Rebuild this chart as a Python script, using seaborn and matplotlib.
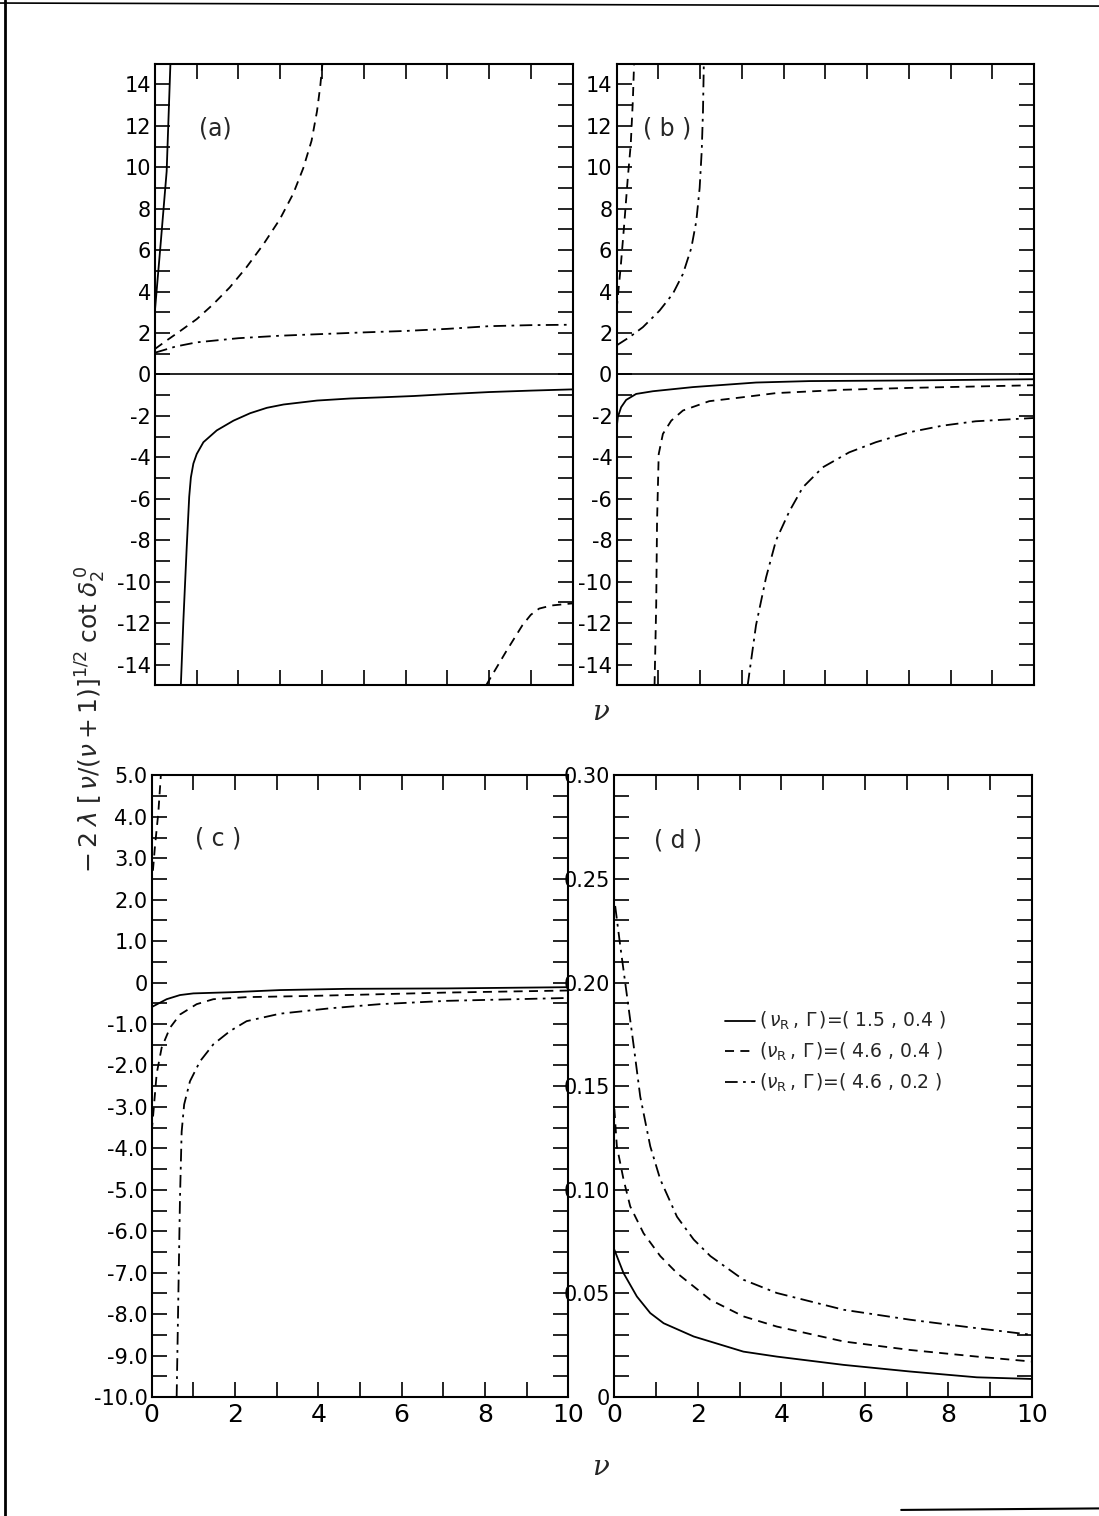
import numpy as np
import pandas as pd
import matplotlib
matplotlib.use('Agg')
import matplotlib.pyplot as plt
import seaborn as sns
from matplotlib.lines import Line2D
from matplotlib.ticker import FixedLocator, FuncFormatter

# ---- data ----
# panel (a)
a_solid_up_x = [0.0, 0.14, 0.28, 0.37]
a_solid_up_y = [3.1, 6.4, 9.8, 15.0]
a_solid_lo_x = [0.62, 0.68, 0.76, 0.82, 0.86, 0.92, 1.0, 1.16, 1.48, 1.88, 2.28, 2.68, 3.08, 3.88,
                4.68, 5.48, 6.2, 7.0, 8.0, 9.0, 10.0]
a_solid_lo_y = [-15.0, -11.9, -8.35, -5.9, -4.97, -4.3, -3.84, -3.27, -2.7, -2.23, -1.87, -1.61, -1.45, -1.26,
                -1.16, -1.1, -1.04, -0.95, -0.85, -0.78, -0.72]
a_dash_up_x = [0.0, 0.28, 0.6, 1.0, 1.39, 1.79, 2.19, 2.59, 2.99, 3.31, 3.55, 3.75, 3.88, 3.96, 4.01]
a_dash_up_y = [1.23, 1.64, 2.09, 2.67, 3.38, 4.2, 5.17, 6.26, 7.49, 8.72, 9.95, 11.28, 12.7, 13.95, 15.0]
a_dash_lo_x = [7.93, 8.4, 8.8, 9.0, 9.2, 9.5, 10.0]
a_dash_lo_y = [-15.0, -13.4, -12.1, -11.6, -11.3, -11.15, -11.05]
a_dd_x = [0.0, 0.5, 1.0, 2.0, 3.0, 4.0, 5.0, 6.0, 7.0, 8.0, 9.0, 10.0]
a_dd_y = [1.05, 1.35, 1.55, 1.75, 1.87, 1.95, 2.03, 2.1, 2.2, 2.33, 2.38, 2.4]

# panel (b)
b_solid_x = [0.0, 0.03, 0.11, 0.23, 0.47, 0.87, 1.83, 3.34, 4.62, 7.0, 10.0]
b_solid_y = [-2.63, -2.06, -1.58, -1.23, -0.94, -0.81, -0.61, -0.39, -0.32, -0.29, -0.23]
b_dash_up_x = [0.0, 0.1, 0.19, 0.27, 0.34, 0.39, 0.42]
b_dash_up_y = [3.1, 5.2, 7.4, 9.5, 11.1, 13.2, 15.0]
b_dash_lo_x = [0.91, 0.95, 0.97, 1.01, 1.11, 1.31, 1.59, 2.22, 3.02, 3.82, 5.42, 7.0, 10.0]
b_dash_lo_y = [-15.0, -11.1, -7.1, -3.84, -2.87, -2.23, -1.74, -1.29, -1.1, -0.9, -0.74, -0.65, -0.52]
b_dd_up_x = [0.0, 0.31, 0.63, 1.03, 1.35, 1.59, 1.79, 1.91, 1.99, 2.04, 2.07, 2.09]
b_dd_up_y = [1.4, 1.8, 2.28, 3.08, 3.9, 4.85, 6.1, 7.4, 9.0, 10.8, 12.7, 15.0]
b_dd_lo_x = [3.14, 3.34, 3.58, 3.82, 4.14, 4.46, 4.94, 5.57, 6.21, 7.01, 7.81, 8.6, 10.0]
b_dd_lo_y = [-15.0, -12.1, -9.8, -8.0, -6.6, -5.45, -4.48, -3.76, -3.27, -2.79, -2.47, -2.26, -2.1]

# panel (c)
c_solid_x = [0.0, 0.36, 0.68, 1.0, 1.96, 3.08, 4.68, 7.08, 10.0]
c_solid_y = [-0.59, -0.4, -0.3, -0.26, -0.23, -0.18, -0.15, -0.14, -0.11]
c_dash_up_x = [0.03, 0.08, 0.16, 0.22]
c_dash_up_y = [2.7, 3.3, 4.1, 5.0]
c_dash_lo_x = [0.0, 0.03, 0.12, 0.24, 0.44, 0.68, 1.08, 1.48, 2.28, 3.88, 5.48, 7.08, 10.0]
c_dash_lo_y = [-3.6, -3.27, -2.2, -1.57, -1.09, -0.77, -0.52, -0.4, -0.35, -0.32, -0.28, -0.24, -0.19]
c_dd_x = [0.6, 0.64, 0.68, 0.72, 0.78, 0.92, 1.16, 1.48, 1.88, 2.28, 3.08, 4.28, 5.48, 7.08, 10.0]
c_dd_y = [-10.0, -7.6, -5.2, -3.6, -2.94, -2.38, -1.9, -1.49, -1.17, -0.93, -0.75, -0.62, -0.52, -0.44, -0.37]

# panel (d)
d_solid_x = [0.0, 0.22, 0.54, 0.86, 1.18, 1.9, 3.09, 3.89, 5.49, 7.08, 8.68, 10.0]
d_solid_y = [0.0711, 0.0598, 0.0485, 0.0405, 0.0356, 0.0292, 0.0219, 0.0195, 0.0155, 0.0123, 0.0095, 0.0087]
d_dash_x = [0.0, 0.06, 0.22, 0.38, 0.7, 1.1, 1.5, 2.3, 3.09, 3.89, 5.49, 7.08, 8.68, 10.0]
d_dash_y = [0.139, 0.121, 0.105, 0.092, 0.079, 0.068, 0.0598, 0.0469, 0.0389, 0.034, 0.0268, 0.0227, 0.0195, 0.0171]
d_dd_x = [0.02, 0.14, 0.3, 0.46, 0.62, 0.86, 1.1, 1.5, 1.9, 2.3, 3.09, 3.89, 5.49, 7.08, 8.68, 10.0]
d_dd_y = [0.237, 0.218, 0.194, 0.17, 0.145, 0.121, 0.105, 0.087, 0.076, 0.068, 0.0566, 0.0502, 0.0421,
          0.0373, 0.0332, 0.030]

legend_labels = [r'$(\,\nu_{\rm R}\,,\,\Gamma\,)$=( 1.5 , 0.4 )',
                 r'$(\nu_{\rm R}\,,\,\Gamma\,)$=( 4.6 , 0.4 )',
                 r'$(\nu_{\rm R}\,,\,\Gamma\,)$=( 4.6 , 0.2 )']

DASHES = {'solid': '', 'dash': (5, 3.5), 'dashdot': (7, 3, 1.5, 3)}


def make_frame(branches):
    rows = []
    for i, (kind, xs, ys) in enumerate(branches):
        for x, y in zip(xs, ys):
            rows.append({'v': x, 'val': y, 'curve': kind, 'branch': i})
    return pd.DataFrame(rows)


sns.set_style('ticks')
plt.rcParams['font.family'] = ['DejaVu Sans']
plt.rcParams['mathtext.fontset'] = 'dejavusans'
plt.rcParams.update({
    'xtick.direction': 'in', 'ytick.direction': 'in',
    'xtick.top': True, 'ytick.right': True,
    'xtick.major.size': 11, 'ytick.major.size': 11,
    'xtick.major.width': 1.2, 'ytick.major.width': 1.2,
    'axes.linewidth': 1.5, 'axes.edgecolor': 'black',
    'xtick.color': 'black', 'ytick.color': 'black',
})

fig = plt.figure(figsize=(10.99, 15.16), dpi=100)
ax_a = fig.add_axes([0.141, 0.548, 0.380, 0.410])
ax_b = fig.add_axes([0.561, 0.548, 0.380, 0.410])
ax_c = fig.add_axes([0.138, 0.0785, 0.379, 0.410])
ax_d = fig.add_axes([0.559, 0.0785, 0.380, 0.410])

panels = {
    ax_a: make_frame([('solid', a_solid_up_x, a_solid_up_y), ('solid', a_solid_lo_x, a_solid_lo_y),
                      ('dash', a_dash_up_x, a_dash_up_y), ('dash', a_dash_lo_x, a_dash_lo_y),
                      ('dashdot', a_dd_x, a_dd_y)]),
    ax_b: make_frame([('solid', b_solid_x, b_solid_y),
                      ('dash', b_dash_up_x, b_dash_up_y), ('dash', b_dash_lo_x, b_dash_lo_y),
                      ('dashdot', b_dd_up_x, b_dd_up_y), ('dashdot', b_dd_lo_x, b_dd_lo_y)]),
    ax_c: make_frame([('solid', c_solid_x, c_solid_y),
                      ('dash', c_dash_up_x, c_dash_up_y), ('dash', c_dash_lo_x, c_dash_lo_y),
                      ('dashdot', c_dd_x, c_dd_y)]),
    ax_d: make_frame([('solid', d_solid_x, d_solid_y), ('dash', d_dash_x, d_dash_y),
                      ('dashdot', d_dd_x, d_dd_y)]),
}

for ax, df in panels.items():
    sns.lineplot(data=df, x='v', y='val', style='curve', units='branch', estimator=None,
                 dashes=DASHES, color='black', lw=1.3, legend=False, ax=ax)
    ax.set_xlim(0, 10)
    ax.set_xlabel('')
    ax.set_ylabel('')
    ax.xaxis.set_major_locator(FixedLocator(range(0, 11)))

# y axes
for ax in (ax_a, ax_b):
    ax.set_ylim(-15, 15)
    ax.axhline(0, color='black', lw=1.2)
    ax.yaxis.set_major_locator(FixedLocator(range(-15, 16)))
    ax.yaxis.set_major_formatter(FuncFormatter(
        lambda v, p: f'{int(round(v))}' if abs(v) <= 14 and int(round(v)) % 2 == 0 else ''))
    ax.tick_params(axis='x', labelbottom=False)
    ax.tick_params(axis='y', labelsize=15, pad=3)

ax_c.set_ylim(-10, 5)
ax_c.yaxis.set_major_locator(FixedLocator(np.arange(-10, 5.01, 0.5)))
ax_c.yaxis.set_major_formatter(FuncFormatter(
    lambda v, p: ('0' if abs(v) < 1e-9 else f'{v:.1f}') if abs(v - round(v)) < 1e-9 else ''))

ax_d.set_ylim(0, 0.30)
ax_d.yaxis.set_major_locator(FixedLocator(np.arange(0, 0.3001, 0.01)))
ax_d.yaxis.set_major_formatter(FuncFormatter(
    lambda v, p: ('0' if abs(v) < 1e-9 else f'{v:.2f}') if abs(v * 20 - round(v * 20)) < 1e-6 else ''))

for ax in (ax_c, ax_d):
    ax.xaxis.set_major_formatter(FuncFormatter(lambda v, p: f'{int(v)}' if int(v) % 2 == 0 else ''))
    ax.tick_params(axis='x', labelsize=18, pad=4)
    ax.tick_params(axis='y', labelsize=15, pad=3)

# panel tags
ax_a.text(0.144, 0.895, '(a)', transform=ax_a.transAxes, fontsize=17, ha='center', va='center')
ax_b.text(0.122, 0.895, '( b )', transform=ax_b.transAxes, fontsize=17, ha='center', va='center')
ax_c.text(0.159, 0.899, '( c )', transform=ax_c.transAxes, fontsize=17, ha='center', va='center')
ax_d.text(0.153, 0.895, '( d )', transform=ax_d.transAxes, fontsize=17, ha='center', va='center')

# legend in (d)
handles = [Line2D([], [], color='black', lw=1.3, linestyle='-'),
           Line2D([], [], color='black', lw=1.3, dashes=DASHES['dash']),
           Line2D([], [], color='black', lw=1.3, dashes=DASHES['dashdot'])]
ax_d.legend(handles, legend_labels, loc='center', bbox_to_anchor=(0.53, 0.555), frameon=False,
            fontsize=13.5, handlelength=1.6, handletextpad=0.2, labelspacing=0.45)

# axis labels
fig.text(0.083, 0.526, r'$-\,2\;\lambda\;[\,\nu/(\nu+1)]^{1/2}\;\mathrm{cot}\;\delta_2^{\,0}$',
         rotation=90, ha='center', va='center', fontsize=18)
fig.text(0.546, 0.530, 'ν', fontsize=20, style='italic', family='DejaVu Serif', ha='center', va='center')
fig.text(0.546, 0.032, 'ν', fontsize=20, style='italic', family='DejaVu Serif', ha='center', va='center')

# scanned page border
fig.add_artist(Line2D([0.005, 0.005], [0.0, 1.0], color='black', lw=2, transform=fig.transFigure))
fig.add_artist(Line2D([0.0, 1.0], [0.998, 0.996], color='black', lw=1.2, transform=fig.transFigure))
fig.add_artist(Line2D([0.82, 1.0], [0.004, 0.005], color='black', lw=1.5, transform=fig.transFigure))

fig.savefig('out.png', dpi=100)
